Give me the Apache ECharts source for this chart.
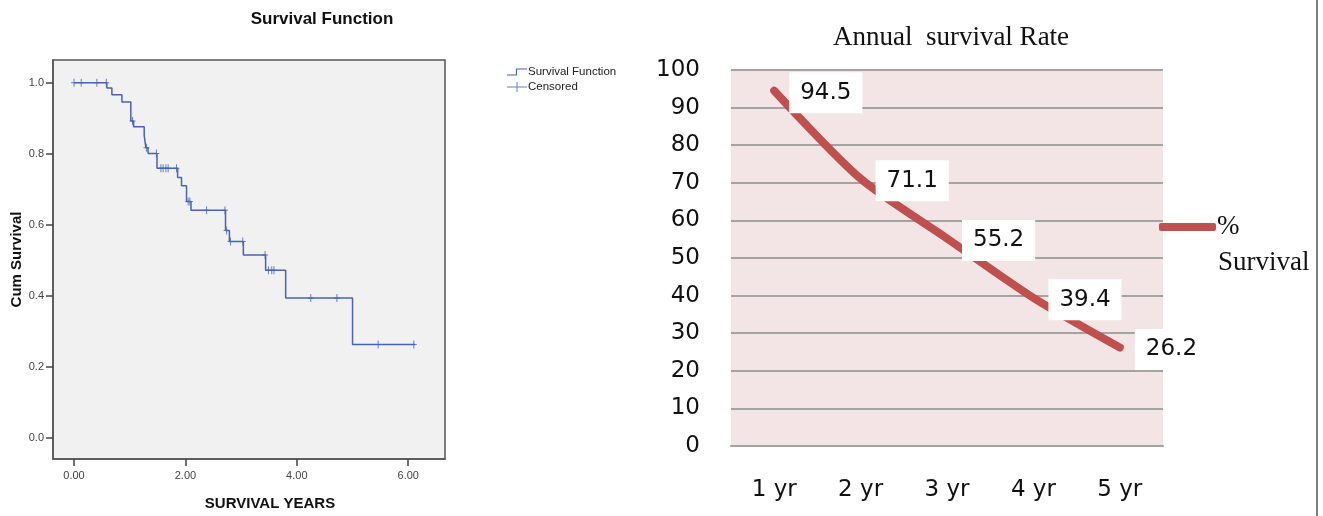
<!DOCTYPE html>
<html>
<head>
<meta charset="utf-8">
<script src="https://cdn.jsdelivr.net/npm/echarts@6/dist/echarts.min.js"></script>
<style>
html,body{margin:0;padding:0;background:#fff;}
#c{width:1323px;height:516px;}
</style>
</head>
<body>
<div id="c"></div>
<script>
// ---- Left chart: Kaplan-Meier survival function ----
const kmTimes = [0, 0.59, 0.68, 0.86, 1.02, 1.07, 1.26, 1.29, 1.33, 1.49, 1.86, 1.93, 2.02, 2.10, 2.72, 2.79, 3.04, 3.44, 3.80, 5.00, 6.12];
const kmSurv  = [1.0, 0.985, 0.966, 0.946, 0.892, 0.876, 0.852, 0.817, 0.801, 0.759, 0.733, 0.710, 0.666, 0.641, 0.584, 0.553, 0.515, 0.472, 0.394, 0.263, 0.263];
const censorTimes = [0.0, 0.13, 0.41, 0.58, 1.05, 1.30, 1.48, 1.56, 1.60, 1.65, 1.69, 1.84, 2.05, 2.08, 2.38, 2.71, 2.74, 2.81, 3.03, 3.43, 3.49, 3.55, 3.59, 4.25, 4.72, 5.46, 6.10];
const censorSurv  = [1, 1, 1, 1, 0.892, 0.817, 0.801, 0.759, 0.759, 0.759, 0.759, 0.759, 0.666, 0.666, 0.641, 0.641, 0.584, 0.553, 0.553, 0.515, 0.472, 0.472, 0.472, 0.394, 0.394, 0.263, 0.263];
const kmXTicks = [0, 2, 4, 6];
const kmYTicks = [0, 0.2, 0.4, 0.6, 0.8, 1.0];

// ---- Right chart: annual survival rate ----
const years = ['1 yr', '2 yr', '3 yr', '4 yr', '5 yr'];
const rates = [94.5, 71.1, 55.2, 39.4, 26.2];

const kmData = kmTimes.map((t, i) => [t, kmSurv[i]]);
const censorData = censorTimes.map((t, i) => [t, censorSurv[i]]);

const chart = echarts.init(document.getElementById('c'));
const plus = 'path://M2.5,0 H3.5 V8 H2.5 Z M0,3.5 H6 V4.5 H0 Z';
const plusIcon = 'path://M0,4.5 H20 V5.5 H0 Z M9.5,0 H10.5 V10 H9.5 Z';
const stepIcon = 'path://M0,8 H9 V2 H20 V3 H10 V9 H0 Z';
const KMBLUE = '#4563b8';
const sans = 'Liberation Sans, Arial, sans-serif';
const serif = 'Liberation Serif, Times New Roman, serif';
const wide = 'DejaVu Sans, sans-serif';

chart.setOption({
  animation: false,
  backgroundColor: '#ffffff',
  title: [
    { text: 'Survival Function', left: 317, top: 6, textAlign: 'center',
      textStyle: { fontFamily: sans, fontSize: 17, fontWeight: 'bold', color: '#111' } },
    { text: 'Annual  survival Rate', left: 946, top: 19, textAlign: 'center',
      textStyle: { fontFamily: serif, fontSize: 27, fontWeight: 'normal', color: '#111' } }
  ],
  legend: [
    { data: [{ name: 'Survival Function', icon: stepIcon }, { name: 'Censored', icon: plusIcon }],
      left: 502, top: 61, orient: 'vertical', itemWidth: 20, itemHeight: 10, itemGap: 3,
      textStyle: { fontFamily: sans, fontSize: 11.5, color: '#222', padding: [0, 0, 0, -4] } },
    { data: [{ name: '% Survival', icon: 'roundRect' }],
      left: 1154, top: 208, itemWidth: 57, itemHeight: 8,
      formatter: () => '%',
      textStyle: { fontFamily: serif, fontSize: 27, lineHeight: 28, color: '#111', padding: [0, 0, 0, -4] } }
  ],
  graphic: [
    { type: 'text', left: 1218, top: 249,
      style: { text: 'Survival', font: '27px ' + serif, fill: '#111' } },
    { type: 'line', shape: { x1: 1317, y1: 0, x2: 1317, y2: 516 },
      style: { stroke: '#555', lineWidth: 1.5 } }
  ],
  grid: [
    { left: 53, top: 60, width: 392, height: 401, show: true,
      backgroundColor: '#f1f1f1', borderColor: '#555', borderWidth: 1.5 },
    { left: 731, top: 70, width: 432, height: 376, show: true,
      backgroundColor: '#f3e5e5', borderWidth: 0 }
  ],
  xAxis: [
    { type: 'value', gridIndex: 0, min: -0.377, max: 6.66,
      name: 'SURVIVAL YEARS', nameLocation: 'middle', nameGap: 37,
      nameTextStyle: { fontFamily: sans, fontSize: 15, fontWeight: 'bold', color: '#111', padding: [0, 0, 0, 42] },
      axisLine: { show: true, onZero: false, lineStyle: { color: '#555', width: 1.5 } },
      axisTick: { show: true, length: 7, customValues: kmXTicks, lineStyle: { color: '#444', width: 1.5 } },
      axisLabel: { customValues: kmXTicks, formatter: v => v.toFixed(2), margin: 11,
        fontFamily: sans, fontSize: 11, color: '#444' },
      splitLine: { show: false } },
    { type: 'category', gridIndex: 1, data: years, boundaryGap: true,
      axisLine: { show: true, lineStyle: { color: '#a3a3a3', width: 2 } },
      axisTick: { show: false },
      axisLabel: { margin: 33, fontFamily: wide, fontSize: 23, color: '#111' } }
  ],
  yAxis: [
    { type: 'value', gridIndex: 0, min: -0.059, max: 1.064,
      name: 'Cum Survival', nameLocation: 'middle', nameGap: 29, nameRotate: 90,
      nameTextStyle: { fontFamily: sans, fontSize: 15, fontWeight: 'bold', color: '#111' },
      axisLine: { show: true, onZero: false, lineStyle: { color: '#555', width: 1.5 } },
      axisTick: { show: true, length: 7, customValues: kmYTicks, lineStyle: { color: '#444', width: 1.5 } },
      axisLabel: { customValues: kmYTicks, formatter: v => v.toFixed(1), margin: 9,
        fontFamily: sans, fontSize: 11, color: '#444' },
      splitLine: { show: false } },
    { type: 'value', gridIndex: 1, min: 0, max: 100, interval: 10,
      axisLine: { show: false }, axisTick: { show: false },
      axisLabel: { margin: 31, fontFamily: wide, fontSize: 23, color: '#111' },
      splitLine: { show: true, lineStyle: { color: '#a3a3a3', width: 2 } } }
  ],
  series: [
    { name: 'Survival Function', type: 'line', xAxisIndex: 0, yAxisIndex: 0,
      data: kmData, step: 'end', symbol: 'none',
      lineStyle: { color: KMBLUE, width: 1.5 }, itemStyle: { color: KMBLUE } },
    { name: 'Censored', type: 'scatter', xAxisIndex: 0, yAxisIndex: 0,
      data: censorData, symbol: plus, symbolSize: [6, 8],
      itemStyle: { color: KMBLUE } },
    { name: '% Survival', type: 'line', xAxisIndex: 1, yAxisIndex: 1,
      data: rates, smooth: 0.25, symbol: 'circle', symbolSize: 2, showSymbol: true,
      lineStyle: { color: '#c0504d', width: 8, cap: 'round', join: 'round' },
      itemStyle: { color: '#c0504d' },
      label: { show: true, position: 'right', distance: 14, offset: [0, 2],
        backgroundColor: '#ffffff', padding: [9, 11, 9, 11],
        fontFamily: wide, fontSize: 23, color: '#111' } }
  ]
});
</script>
</body>
</html>
